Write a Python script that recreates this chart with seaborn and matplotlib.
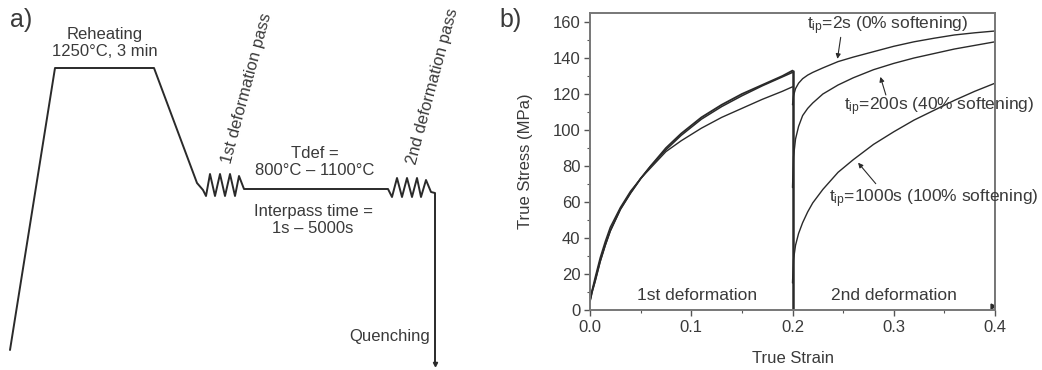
import numpy as np
import pandas as pd
import matplotlib
matplotlib.use("Agg")
import matplotlib.pyplot as plt
from matplotlib.ticker import MultipleLocator
import seaborn as sns

# ---------------------------------------------------------------- data
# Thermal schedule (schematic, drawn in pixel units of the left panel)
schedule_x = [10, 55, 154, 197, 203, 206, 210, 215, 220, 225, 230, 235, 239, 244,
              388, 392, 397, 402, 407, 412, 417, 421, 426, 431, 435, 435]
schedule_y = [350, 68, 68, 183, 190, 196, 174, 196, 174, 196, 174, 196, 176, 189,
              189, 197, 178, 197, 178, 197, 178, 197, 180, 192, 193, 362]

# First deformation pass (true strain / true stress in MPa)
strain_1st = [0, 0.002, 0.005, 0.01, 0.015, 0.02, 0.03, 0.04, 0.05, 0.06,
              0.075, 0.09, 0.11, 0.13, 0.15, 0.17, 0.19, 0.2]
stress_1st_a = [5, 10, 16, 27, 36, 44, 56, 65, 73, 80, 90, 98, 107, 114, 120, 125, 130, 133]
stress_1st_b = [5, 10, 16, 27, 36, 44, 56, 65, 73, 80, 89, 97, 106, 113, 119, 124.5, 129.5, 132]
stress_1st_c = [5, 11, 18, 29, 38, 46, 57, 66, 73, 79, 88, 94, 101, 107, 112, 117, 121.5, 124]

# Second deformation pass for three interpass times
strain_2nd = [0.2, 0.201, 0.203, 0.206, 0.21, 0.215, 0.22, 0.23, 0.245, 0.26,
              0.28, 0.3, 0.32, 0.34, 0.36, 0.38, 0.4]
stress_2s = [114, 119, 123, 126, 128.5, 130.5, 132, 134.5, 138, 140.5,
             143.5, 146.5, 149, 151, 152.8, 154, 155]
stress_200s = [68, 85, 95, 102, 108, 112, 115, 120, 125, 129,
               133.5, 137, 140, 142.5, 145, 147, 149]
stress_1000s = [15, 28, 36, 42.5, 48.5, 54.5, 59.5, 67, 76.5, 83.5,
                92, 99, 105.5, 111, 116.5, 121.5, 126]

# Unloading after each pass
unload_1_x = [0.2, 0.2]
unload_1_y = [133, 0]
unload_2_x = [0.4, 0.4]
unload_2_y = [155, 0]

x_ticks = [0.0, 0.1, 0.2, 0.3, 0.4]
y_ticks = [0, 20, 40, 60, 80, 100, 120, 140, 160]

# ---------------------------------------------------------------- style
sns.set_theme(style="white")
plt.rcParams["font.family"] = ["Liberation Sans", "DejaVu Sans"]
plt.rcParams["mathtext.fontset"] = "custom"
plt.rcParams["mathtext.rm"] = "Liberation Sans"

TXT = "#3a3a3a"
LINE = "#2a2a2a"
FS_A = 12
FS_B = 12.5

fig = plt.figure(figsize=(10.42, 3.70), dpi=100)

# ---------------------------------------------------------------- panel a
ax_a = fig.add_axes([0, 0, 1, 1])
ax_a.set_xlim(0, 1042)
ax_a.set_ylim(370, 0)
ax_a.axis("off")

sns.lineplot(x=schedule_x, y=schedule_y, sort=False, estimator=None,
             color=LINE, lw=1.4, ax=ax_a)
ax_a.plot([435], [364], marker="v", ms=3, color=LINE)

ax_a.text(10, 20, "a)", fontsize=18, color=TXT, va="center", ha="left")
ax_a.text(105, 43, "Reheating\n1250°C, 3 min", fontsize=FS_A, color=TXT,
          ha="center", va="center", linespacing=1.2)
ax_a.text(247, 88, "1st deformation pass", fontsize=FS_A, color=TXT,
          ha="center", va="center", rotation=75, rotation_mode="anchor")
ax_a.text(433, 86, "2nd deformation pass", fontsize=FS_A, color=TXT,
          ha="center", va="center", rotation=75, rotation_mode="anchor")
ax_a.text(315, 162, "Tdef =\n800°C – 1100°C", fontsize=FS_A, color=TXT,
          ha="center", va="center", linespacing=1.2)
ax_a.text(313, 220, "Interpass time =\n1s – 5000s", fontsize=FS_A, color=TXT,
          ha="center", va="center", linespacing=1.2)
ax_a.text(430, 337, "Quenching", fontsize=FS_A, color=TXT, ha="right", va="center")
ax_a.text(499, 20, "b)", fontsize=18, color=TXT, va="center", ha="left")

# ---------------------------------------------------------------- panel b
ax = fig.add_axes([590 / 1042, 1 - 310 / 370, 405 / 1042, 297 / 370])
kw = dict(sort=False, estimator=None, color=LINE, ax=ax)
sns.lineplot(x=strain_1st, y=stress_1st_a, lw=1.3, **kw)
sns.lineplot(x=strain_1st, y=stress_1st_b, lw=1.1, **kw)
sns.lineplot(x=strain_1st, y=stress_1st_c, lw=1.0, **kw)
sns.lineplot(x=unload_1_x, y=unload_1_y, lw=1.8, **kw)
sns.lineplot(x=strain_2nd, y=stress_2s, lw=1.0, **kw)
sns.lineplot(x=strain_2nd, y=stress_200s, lw=1.0, **kw)
sns.lineplot(x=strain_2nd, y=stress_1000s, lw=1.0, **kw)
sns.lineplot(x=unload_2_x, y=unload_2_y, lw=1.8, **kw)
ax.plot([0.398], [2], marker=">", ms=3.5, color=LINE)

ax.set_xlim(0, 0.4)
ax.set_ylim(0, 165)
ax.set_xticks(x_ticks)
ax.set_xticklabels([f"{v:.1f}" for v in x_ticks])
ax.set_yticks(y_ticks)
ax.xaxis.set_minor_locator(MultipleLocator(0.05))
ax.yaxis.set_minor_locator(MultipleLocator(10))
ax.tick_params(which="major", direction="out", length=4.5, width=1, color="#555",
               labelsize=12, labelcolor=TXT, pad=2.5, bottom=True, left=True)
ax.tick_params(which="minor", direction="out", length=2.5, width=0.8, color="#555",
               bottom=True, left=True)
for s in ax.spines.values():
    s.set_color("#777")
    s.set_linewidth(1.4)

ax.set_xlabel("True Strain", fontsize=12, color=TXT, labelpad=12)
ax.set_ylabel("True Stress (MPa)", fontsize=12, color=TXT, labelpad=14)

ax.text(0.106, 8, "1st deformation", fontsize=FS_B, color=TXT, ha="center", va="center")
ax.text(0.300, 8, "2nd deformation", fontsize=FS_B, color=TXT, ha="center", va="center")

arrow = dict(arrowstyle="-|>", lw=0.8, color=LINE, mutation_scale=7)
ax.text(0.214, 158, r"$\mathregular{t_{ip}}$=2s (0% softening)", fontsize=FS_B,
        color=TXT, ha="left", va="center")
ax.annotate("", xy=(0.244, 138), xytext=(0.248, 153), arrowprops=arrow)
ax.text(0.251, 113, r"$\mathregular{t_{ip}}$=200s (40% softening)", fontsize=FS_B,
        color=TXT, ha="left", va="center")
ax.annotate("", xy=(0.286, 131), xytext=(0.293, 118), arrowprops=arrow)
ax.text(0.236, 62, r"$\mathregular{t_{ip}}$=1000s (100% softening)", fontsize=FS_B,
        color=TXT, ha="left", va="center")
ax.annotate("", xy=(0.263, 83), xytext=(0.284, 69), arrowprops=arrow)

fig.savefig("out.png", dpi=100, facecolor="white")
